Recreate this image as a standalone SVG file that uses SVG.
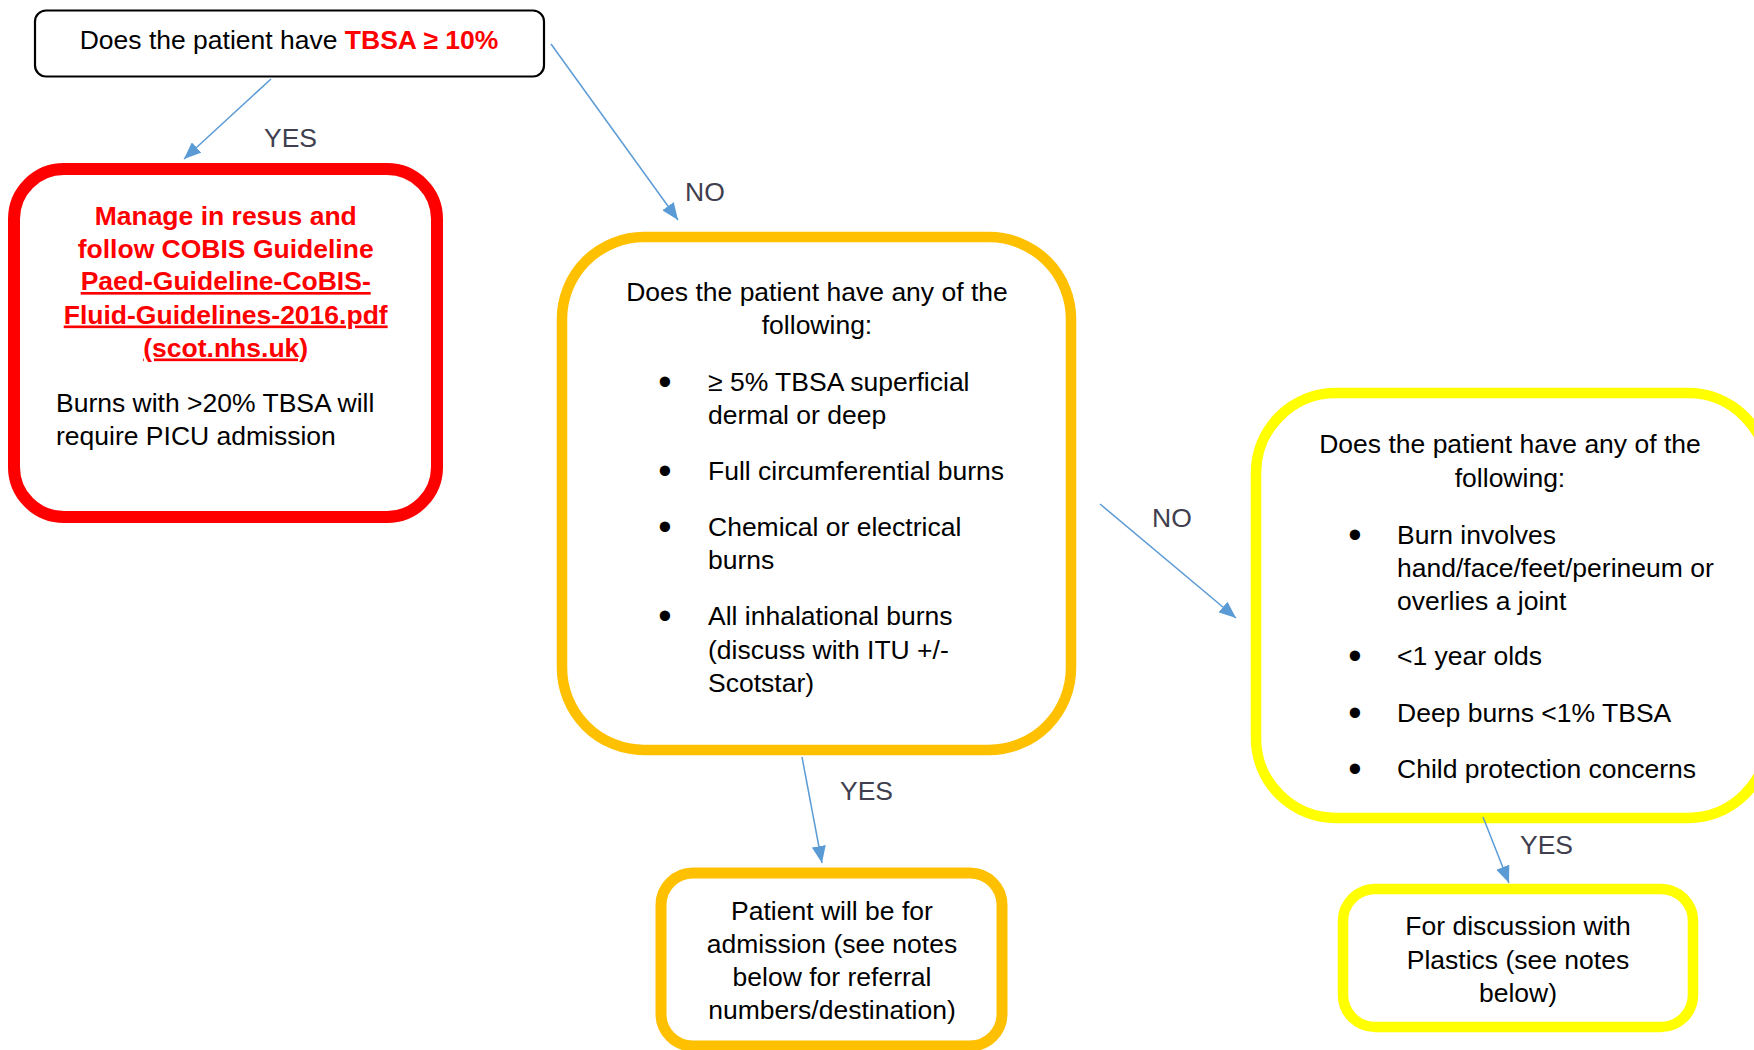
<svg xmlns="http://www.w3.org/2000/svg" width="1754" height="1050" viewBox="0 0 1754 1050">
<style>
text{font-family:"Liberation Sans",Arial,sans-serif;font-size:26.5px;fill:#000}
.c{text-anchor:middle}
.b{text-anchor:middle;font-size:38px}
.r{fill:#FF0000;font-weight:bold}
.u{text-decoration:underline}
.lbl{fill:#3F3F4F}
.box{fill:#fff}
.conn{stroke:#5B9BD5;stroke-width:1.5;fill:none;marker-end:url(#ah)}
</style>
<defs>
<marker id="ah" markerUnits="userSpaceOnUse" markerWidth="17" markerHeight="14" refX="17" refY="7" orient="auto">
<path d="M0,0 L17,7 L0,14 z" fill="#5B9BD5"/>
</marker>
</defs>
<rect width="1754" height="1050" fill="#fff"/>
<g id="q1">
<rect class="box" x="35" y="10.5" width="509" height="66" rx="11" stroke="#000" stroke-width="2.2"/>
<text class="c" x="289" y="48.5">Does the patient have <tspan class="r">TBSA ≥ 10%</tspan></text>
</g>
<g id="resus">
<rect class="box" x="14" y="169" width="423" height="348" rx="50" stroke="#FF0000" stroke-width="12"/>
<text class="c r" x="225.7" y="225">Manage in resus and</text>
<text class="c r" x="225.7" y="257.5">follow COBIS Guideline</text>
<text class="c r u" x="225.7" y="290">Paed-Guideline-CoBIS-</text>
<text class="c r u" x="225.7" y="323.5">Fluid-Guidelines-2016.pdf</text>
<text class="c r u" x="225.7" y="356.5">(scot.nhs.uk)</text>
<text x="56" y="412">Burns with &gt;20% TBSA will</text>
<text x="56" y="445">require PICU admission</text>
</g>
<g id="q2">
<rect class="box" x="562" y="237" width="509" height="513" rx="82" stroke="#FFC000" stroke-width="10.5"/>
<text class="c" x="817" y="301">Does the patient have any of the</text>
<text class="c" x="817" y="334">following:</text>
<text class="b" x="665" y="395">•</text>
<text x="708" y="391">≥ 5% TBSA superficial</text>
<text x="708" y="424">dermal or deep</text>
<text class="b" x="665" y="484">•</text>
<text x="708" y="480">Full circumferential burns</text>
<text class="b" x="665" y="540">•</text>
<text x="708" y="536">Chemical or electrical</text>
<text x="708" y="569">burns</text>
<text class="b" x="665" y="629">•</text>
<text x="708" y="625">All inhalational burns</text>
<text x="708" y="658.5">(discuss with ITU +/-</text>
<text x="708" y="692">Scotstar)</text>
</g>
<g id="q3">
<rect class="box" x="1256" y="393" width="512" height="425" rx="80" stroke="#FFFF00" stroke-width="10.5"/>
<text class="c" x="1510" y="453">Does the patient have any of the</text>
<text class="c" x="1510" y="487">following:</text>
<text class="b" x="1355" y="547.5">•</text>
<text x="1397" y="543.5">Burn involves</text>
<text x="1397" y="577">hand/face/feet/perineum or</text>
<text x="1397" y="610">overlies a joint</text>
<text class="b" x="1355" y="669">•</text>
<text x="1397" y="665">&lt;1 year olds</text>
<text class="b" x="1355" y="725.5">•</text>
<text x="1397" y="721.5">Deep burns &lt;1% TBSA</text>
<text class="b" x="1355" y="781.5">•</text>
<text x="1397" y="777.5">Child protection concerns</text>
</g>
<g id="admit">
<rect class="box" x="661" y="873" width="341" height="173" rx="32" stroke="#FFC000" stroke-width="11"/>
<text class="c" x="832" y="920">Patient will be for</text>
<text class="c" x="832" y="953">admission (see notes</text>
<text class="c" x="832" y="986">below for referral</text>
<text class="c" x="832" y="1018.5">numbers/destination)</text>
</g>
<g id="plastics">
<rect class="box" x="1343" y="889" width="350" height="138" rx="32" stroke="#FFFF00" stroke-width="10.5"/>
<text class="c" x="1518" y="935">For discussion with</text>
<text class="c" x="1518" y="968.5">Plastics (see notes</text>
<text class="c" x="1518" y="1001.5">below)</text>
</g>
<g id="connectors">
<line class="conn" x1="271" y1="79" x2="184" y2="159"/>
<line class="conn" x1="551" y1="44" x2="678" y2="220"/>
<line class="conn" x1="1100" y1="504" x2="1236" y2="618"/>
<line class="conn" x1="802" y1="757" x2="822" y2="863"/>
<line class="conn" x1="1483" y1="817" x2="1509" y2="883"/>
<text class="lbl" x="264" y="147">YES</text>
<text class="lbl" x="685" y="201">NO</text>
<text class="lbl" x="1152" y="527">NO</text>
<text class="lbl" x="840" y="800">YES</text>
<text class="lbl" x="1520" y="854">YES</text>
</g>
</svg>
